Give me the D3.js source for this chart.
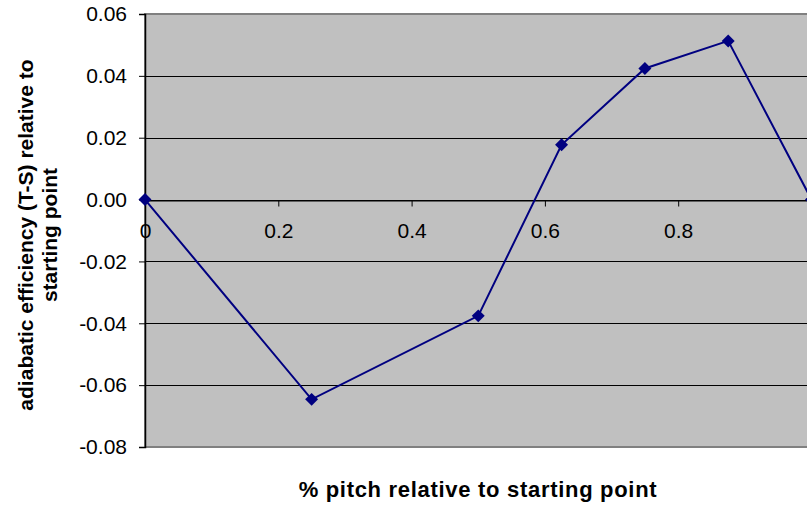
<!DOCTYPE html>
<html>
<head>
<meta charset="utf-8">
<script src="https://cdn.jsdelivr.net/npm/d3@7"></script>
<style>
  body { margin: 0; background: #fff; }
  svg { display: block; font-family: "Liberation Sans", Arial, sans-serif; }
</style>
</head>
<body>
<svg id="chart" width="807" height="507"></svg>
<script>
// data
var pitch = [0, 0.25, 0.5, 0.625, 0.75, 0.875, 1];
var efficiency = [0, -0.0646, -0.0376, 0.0177, 0.0424, 0.0513, 0];
var xTicks = [0, 0.2, 0.4, 0.6, 0.8];
var yTicks = [0.06, 0.04, 0.02, 0, -0.02, -0.04, -0.06, -0.08];

var margin = { left: 145, top: 14, right: 811.5, bottom: 447 };
var fontFam = '"Liberation Sans", Arial, sans-serif';

var svg = d3.select('#chart');

var x = d3.scaleLinear().domain([0, 1]).range([margin.left, margin.right]);
var y = d3.scaleLinear().domain([-0.08, 0.06]).range([margin.bottom, margin.top]);

// plot area
svg.append('rect')
    .attr('x', margin.left)
    .attr('y', margin.top)
    .attr('width', margin.right - margin.left)
    .attr('height', margin.bottom - margin.top)
    .attr('fill', '#c0c0c0')
    .attr('stroke', '#808080')
    .attr('stroke-width', 2);

// gridlines
svg.append('g')
    .selectAll('line')
    .data(yTicks.filter(d => d !== 0.06 && d !== -0.08))
    .join('line')
    .attr('x1', margin.left)
    .attr('x2', margin.right)
    .attr('y1', d => Math.round(y(d)) + 0.5)
    .attr('y2', d => Math.round(y(d)) + 0.5)
    .attr('stroke', '#000')
    .attr('stroke-width', 1);

// y axis
var yAxis = svg.append('g')
    .attr('transform', 'translate(' + margin.left + ',0)')
    .call(d3.axisLeft(y).tickValues(yTicks).tickSize(6).tickPadding(12)
        .tickFormat(d3.format('.2f')));
yAxis.select('.domain').attr('stroke', '#000').attr('stroke-width', 1.5);
yAxis.selectAll('.tick line').attr('stroke', '#000');
yAxis.selectAll('text')
    .attr('font-size', 21)
    .attr('fill', '#000')
    .attr('font-family', fontFam)
    .text(d => d3.format('.2f')(d).replace('\u2212', '-'));

// x axis sits on zero
var xAxis = svg.append('g')
    .attr('transform', 'translate(0,' + (Math.round(y(0)) + 0.5) + ')')
    .call(d3.axisBottom(x).tickValues(xTicks).tickSize(6).tickPadding(17)
        .tickFormat(d => d === 0 ? '0' : d3.format('.1f')(d)));
xAxis.select('.domain').attr('stroke', '#000').attr('stroke-width', 1);
xAxis.selectAll('.tick line').attr('stroke', '#000');
xAxis.selectAll('text')
    .attr('font-size', 21)
    .attr('fill', '#000')
    .attr('font-family', fontFam);

// series line
var line = d3.line()
    .x((d, i) => x(pitch[i]))
    .y(d => y(d));

svg.append('path')
    .datum(efficiency)
    .attr('d', line)
    .attr('fill', 'none')
    .attr('stroke', '#000080')
    .attr('stroke-width', 2);

// diamond markers
svg.append('g')
    .selectAll('path')
    .data(efficiency)
    .join('path')
    .attr('d', d3.symbol(d3.symbolSquare, 84))
    .attr('transform', (d, i) => 'translate(' + x(pitch[i]) + ',' + y(d) + ') rotate(45)')
    .attr('fill', '#000080');

// axis titles
svg.append('text')
    .attr('x', 478)
    .attr('y', 497)
    .attr('text-anchor', 'middle')
    .attr('font-size', 22)
    .attr('font-weight', 'bold')
    .attr('letter-spacing', 0.7)
    .text('% pitch relative to starting point');

var yTitle = svg.append('text')
    .attr('transform', 'translate(0,235) rotate(-90)')
    .attr('text-anchor', 'middle')
    .attr('font-size', 21)
    .attr('font-weight', 'bold');
yTitle.append('tspan').attr('x', 0).attr('y', 33).text('adiabatic efficiency (T-S) relative to');
yTitle.append('tspan').attr('x', 0).attr('y', 57).text('starting point');
</script>
</body>
</html>
